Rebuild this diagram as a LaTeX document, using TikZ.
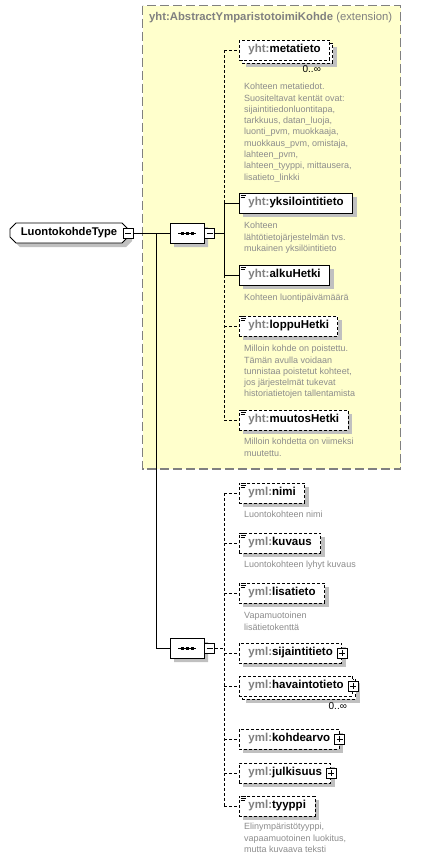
\documentclass[tikz,border=0pt]{standalone}
\usepackage{fontspec}
\setmainfont{Liberation Sans}
\usetikzlibrary{shapes.misc,shadows,calc}

\definecolor{yell}{RGB}{255,255,204}
\definecolor{bordgray}{RGB}{128,128,128}
\definecolor{pfx}{RGB}{128,128,128}
\definecolor{desccol}{RGB}{140,140,140}
\definecolor{shad}{RGB}{192,192,192}

\newcommand{\pfxyht}{\textcolor{pfx}{yht:}}
\newcommand{\pfxyml}{\textcolor{pfx}{yml:}}
\newcommand{\docicon}[1]{%
  \draw[line width=0.7pt] ($(#1.north west)+(1.5,1.2)$) -- ++(5.5,0)
    ($(#1.north west)+(1.5,3.2)$) -- ++(5.5,0)
    ($(#1.north west)+(1.5,5.2)$) -- ++(4,0);}

\tikzset{
  shadowed/.style={drop shadow={shadow xshift=4pt, shadow yshift=-4pt, fill=shad, opacity=1}},
  elembase/.style={draw=black, fill=white, line width=0.9pt, minimum height=20pt,
    inner xsep=9pt, inner ysep=0pt, anchor=west, font=\fontsize{11.5}{13}\selectfont\bfseries},
  elem/.style={elembase, shadowed},
  optelem/.style={elem, dash pattern=on 3pt off 2pt},
  optfront/.style={elembase, dash pattern=on 3pt off 2pt},
  typebox/.style={chamfered rectangle, chamfered rectangle xsep=3pt, chamfered rectangle ysep=3pt,
    draw=black, fill=white, line width=0.9pt, minimum width=118pt, minimum height=20pt,
    inner sep=0pt, font=\fontsize{11.2}{13}\selectfont\bfseries, shadowed},
  compositor/.style={chamfered rectangle, chamfered rectangle xsep=5pt, chamfered rectangle ysep=5pt,
    draw=black, fill=white, line width=0.9pt, minimum width=34pt, minimum height=20pt,
    inner sep=0pt, shadowed},
  minusbox/.style={draw=black, fill=white, line width=0.8pt, minimum size=10pt, inner sep=0pt,
    path picture={\draw[line width=0.8pt] ([xshift=2pt]path picture bounding box.west) -- ([xshift=-2pt]path picture bounding box.east);}},
  plusbox/.style={draw=black, fill=white, line width=0.8pt, minimum size=10pt, inner sep=0pt,
    path picture={\draw[line width=0.8pt] ([xshift=2pt]path picture bounding box.west) -- ([xshift=-2pt]path picture bounding box.east)
      ([yshift=-2pt]path picture bounding box.north) -- ([yshift=2pt]path picture bounding box.south);}},
  desctext/.style={anchor=north west, inner sep=0pt, align=left, text=desccol,
    font=\fontsize{9}{11.3}\selectfont},
  occ/.style={anchor=north east, inner sep=0pt, font=\fontsize{10}{12}\selectfont},
  conn/.style={line width=0.9pt},
  optconn/.style={line width=0.9pt, dash pattern=on 3pt off 2pt},
}

\begin{document}
\begin{tikzpicture}[x=1pt,y=-1pt]
\useasboundingbox (0,0) rectangle (443,860);
\fill[white] (0,0) rectangle (443,860);

% extension region
\draw[fill=yell, draw=bordgray, line width=1.3pt, dash pattern=on 9pt off 4pt] (142.5,5.5) rectangle (400.5,469);
\node[anchor=west, inner sep=0pt, font=\fontsize{11.3}{13}\selectfont, text=pfx] (title) at (149,18)
  {\textbf{yht:AbstractYmparistotoimiKohde} (extension)};

% type and compositors
\node[typebox] (type) at (69,233) {LuontokohdeType};
\node[minusbox] (typeminus) at (type.east) {};

\node[compositor] (seq1) at (187,233) {};
\draw[line width=0.9pt] ($(seq1.center)+(-9,0)$) -- ($(seq1.center)+(9,0)$);
\fill ($(seq1.center)+(-6.5,-1.5)$) rectangle ++(3,3);
\fill ($(seq1.center)+(-1.5,-1.5)$) rectangle ++(3,3);
\fill ($(seq1.center)+(3.5,-1.5)$) rectangle ++(3,3);
\node[minusbox, anchor=west] (seq1minus) at (seq1.east) {};

\node[compositor] (seq2) at (187,648) {};
\draw[line width=0.9pt] ($(seq2.center)+(-9,0)$) -- ($(seq2.center)+(9,0)$);
\fill ($(seq2.center)+(-6.5,-1.5)$) rectangle ++(3,3);
\fill ($(seq2.center)+(-1.5,-1.5)$) rectangle ++(3,3);
\fill ($(seq2.center)+(3.5,-1.5)$) rectangle ++(3,3);
\node[minusbox, anchor=west] (seq2minus) at (seq2.east) {};

% first sequence elements
\node[optelem] (metaback) at (242,53) {\phantom{\pfxyht metatieto}};
\node[optfront] (metatieto) at (239,50) {\pfxyht metatieto};
\node[occ] (metaocc) at ($(metatieto.south east)+(-9,5)$) {0..∞};
\node[desctext] (d1) at (244,83) {Kohteen metatiedot.\\Suositeltavat kentät ovat:\\sijaintitiedonluontitapa,\\tarkkuus, datan\_luoja,\\luonti\_pvm, muokkaaja,\\muokkaus\_pvm, omistaja,\\lahteen\_pvm,\\lahteen\_tyyppi, mittausera,\\lisatieto\_linkki};

\node[elem] (yksilointitieto) at (239,203) {\pfxyht yksilointitieto};
\docicon{yksilointitieto}
\node[desctext] (d2) at (244,222) {Kohteen\\lähtötietojärjestelmän tvs.\\mukainen yksilöintitieto};

\node[elem] (alkuHetki) at (239,275) {\pfxyht alkuHetki};
\docicon{alkuHetki}
\node[desctext] (d3) at (244,294) {Kohteen luontipäivämäärä};

\node[optelem] (loppuHetki) at (239,326) {\pfxyht loppuHetki};
\docicon{loppuHetki}
\node[desctext] (d4) at (244,345) {Milloin kohde on poistettu.\\Tämän avulla voidaan\\tunnistaa poistetut kohteet,\\jos järjestelmät tukevat\\historiatietojen tallentamista};

\node[optelem] (muutosHetki) at (239,420) {\pfxyht muutosHetki};
\docicon{muutosHetki}
\node[desctext] (d5) at (244,438) {Milloin kohdetta on viimeksi\\muutettu.};

% second sequence elements
\node[optelem] (nimi) at (239,493) {\pfxyml nimi};
\docicon{nimi}
\node[desctext] (d6) at (244,511) {Luontokohteen nimi};

\node[optelem] (kuvaus) at (239,543) {\pfxyml kuvaus};
\docicon{kuvaus}
\node[desctext] (d7) at (244,561) {Luontokohteen lyhyt kuvaus};

\node[optelem] (lisatieto) at (239,593) {\pfxyml lisatieto};
\docicon{lisatieto}
\node[desctext] (d8) at (244,612) {Vapamuotoinen\\lisätietokenttä};

\node[optelem] (sijaintitieto) at (239,653) {\pfxyml sijaintitieto};
\node[plusbox] (sijplus) at (sijaintitieto.east) {};

\node[optelem] (havback) at (242,689) {\phantom{\pfxyml havaintotieto}};
\node[optfront] (havaintotieto) at (239,686) {\pfxyml havaintotieto};
\node[plusbox] (havplus) at (havaintotieto.east) {};
\node[occ] (havocc) at ($(havaintotieto.south east)+(-6,6)$) {0..∞};

\node[optelem] (kohdearvo) at (239,739) {\pfxyml kohdearvo};
\node[plusbox] (kohplus) at (kohdearvo.east) {};

\node[optelem] (julkisuus) at (239,773) {\pfxyml julkisuus};
\node[plusbox] (julplus) at (julkisuus.east) {};

\node[optelem] (tyyppi) at (239,806) {\pfxyml tyyppi};
\docicon{tyyppi}
\node[desctext] (d9) at (244,823) {Elinympäristötyyppi,\\vapaamuotoinen luokitus,\\mutta kuvaava teksti};

% connectors
\coordinate (br) at (156,233);
\coordinate (bus1) at (224,233);
\coordinate (bus2) at (224,648);
\draw[conn] (typeminus.east) -- (seq1.west);
\draw[conn] (br) |- (seq2.west);
\draw[conn] (seq1minus.east) -- (bus1);
\draw[optconn] (bus1 |- metatieto.west) -- (metatieto.west);
\draw[optconn] (bus1 |- metatieto.west) -- (bus1 |- yksilointitieto.west);
\draw[conn] (bus1 |- yksilointitieto.west) -- (yksilointitieto.west);
\draw[conn] (bus1 |- yksilointitieto.west) -- (bus1 |- alkuHetki.west);
\draw[conn] (bus1 |- alkuHetki.west) -- (alkuHetki.west);
\draw[optconn] (bus1 |- alkuHetki.west) -- (bus1 |- muutosHetki.west);
\draw[optconn] (bus1 |- loppuHetki.west) -- (loppuHetki.west);
\draw[optconn] (bus1 |- muutosHetki.west) -- (muutosHetki.west);

\draw[optconn] (seq2minus.east) -- (bus2);
\draw[optconn] (bus2 |- nimi.west) -- (bus2 |- tyyppi.west);
\draw[optconn] (bus2 |- nimi.west) -- (nimi.west);
\draw[optconn] (bus2 |- kuvaus.west) -- (kuvaus.west);
\draw[optconn] (bus2 |- lisatieto.west) -- (lisatieto.west);
\draw[optconn] (bus2 |- sijaintitieto.west) -- (sijaintitieto.west);
\draw[optconn] (bus2 |- havaintotieto.west) -- (havaintotieto.west);
\draw[optconn] (bus2 |- kohdearvo.west) -- (kohdearvo.west);
\draw[optconn] (bus2 |- julkisuus.west) -- (julkisuus.west);
\draw[optconn] (bus2 |- tyyppi.west) -- (tyyppi.west);
\end{tikzpicture}
\end{document}
